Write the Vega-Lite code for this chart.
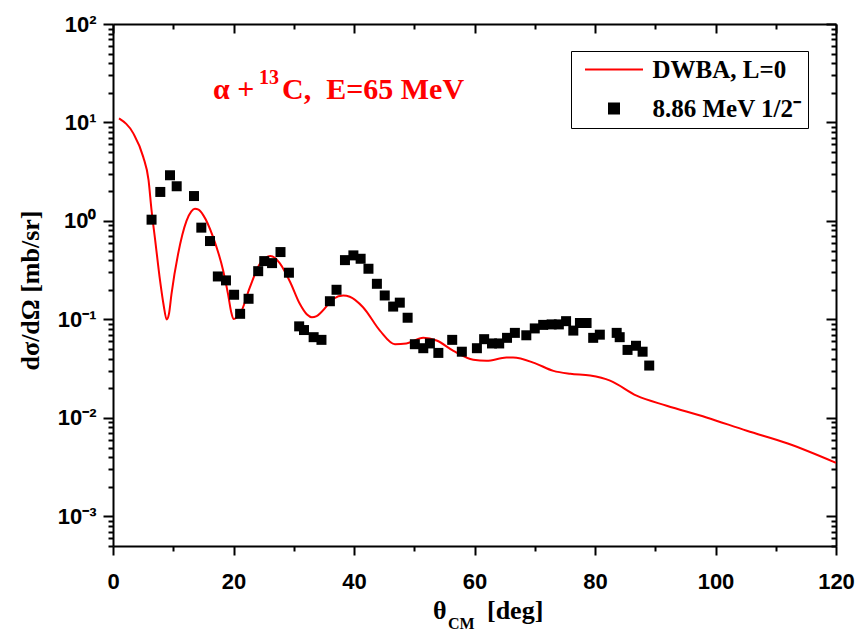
{
  "$schema": "https://vega.github.io/schema/vega-lite/v6.json",
  "width": 723,
  "height": 522,
  "autosize": {"type": "none"},
  "padding": {"left": 113, "top": 24, "right": 23, "bottom": 87},
  "background": "white",
  "config": {
    "view": {"stroke": null},
    "axis": {
      "domainColor": "black", "domainWidth": 2,
      "tickColor": "black", "tickWidth": 2,
      "grid": false,
      "labelFont": "Liberation Sans", "labelFontWeight": "bold", "labelFontSize": 22, "labelColor": "black",
      "titleFont": "Liberation Serif", "titleFontWeight": "bold", "titleFontSize": 26, "titleColor": "black"
    }
  },
  "datasets": {
    "dwba": [
      {"theta": 1.0, "xs": 11.0, "series": "DWBA, L=0"},
      {"theta": 3.4, "xs": 7.7, "series": "DWBA, L=0"},
      {"theta": 5.0, "xs": 4.5, "series": "DWBA, L=0"},
      {"theta": 5.9, "xs": 2.6, "series": "DWBA, L=0"},
      {"theta": 6.4, "xs": 1.28, "series": "DWBA, L=0"},
      {"theta": 7.0, "xs": 0.64, "series": "DWBA, L=0"},
      {"theta": 7.8, "xs": 0.25, "series": "DWBA, L=0"},
      {"theta": 8.4, "xs": 0.14, "series": "DWBA, L=0"},
      {"theta": 8.9, "xs": 0.1, "series": "DWBA, L=0"},
      {"theta": 9.3, "xs": 0.115, "series": "DWBA, L=0"},
      {"theta": 9.7, "xs": 0.18, "series": "DWBA, L=0"},
      {"theta": 10.8, "xs": 0.46, "series": "DWBA, L=0"},
      {"theta": 12.2, "xs": 1.0, "series": "DWBA, L=0"},
      {"theta": 13.0, "xs": 1.25, "series": "DWBA, L=0"},
      {"theta": 13.6, "xs": 1.33, "series": "DWBA, L=0"},
      {"theta": 14.2, "xs": 1.3, "series": "DWBA, L=0"},
      {"theta": 15.0, "xs": 1.14, "series": "DWBA, L=0"},
      {"theta": 16.6, "xs": 0.69, "series": "DWBA, L=0"},
      {"theta": 18.3, "xs": 0.31, "series": "DWBA, L=0"},
      {"theta": 19.1, "xs": 0.18, "series": "DWBA, L=0"},
      {"theta": 19.6, "xs": 0.12, "series": "DWBA, L=0"},
      {"theta": 20.0, "xs": 0.101, "series": "DWBA, L=0"},
      {"theta": 20.5, "xs": 0.104, "series": "DWBA, L=0"},
      {"theta": 21.1, "xs": 0.114, "series": "DWBA, L=0"},
      {"theta": 22.7, "xs": 0.21, "series": "DWBA, L=0"},
      {"theta": 24.4, "xs": 0.37, "series": "DWBA, L=0"},
      {"theta": 25.3, "xs": 0.42, "series": "DWBA, L=0"},
      {"theta": 26.1, "xs": 0.44, "series": "DWBA, L=0"},
      {"theta": 26.9, "xs": 0.42, "series": "DWBA, L=0"},
      {"theta": 27.7, "xs": 0.37, "series": "DWBA, L=0"},
      {"theta": 29.4, "xs": 0.24, "series": "DWBA, L=0"},
      {"theta": 31.0, "xs": 0.144, "series": "DWBA, L=0"},
      {"theta": 32.2, "xs": 0.112, "series": "DWBA, L=0"},
      {"theta": 33.0, "xs": 0.105, "series": "DWBA, L=0"},
      {"theta": 33.8, "xs": 0.108, "series": "DWBA, L=0"},
      {"theta": 34.6, "xs": 0.119, "series": "DWBA, L=0"},
      {"theta": 36.6, "xs": 0.162, "series": "DWBA, L=0"},
      {"theta": 38.2, "xs": 0.175, "series": "DWBA, L=0"},
      {"theta": 39.3, "xs": 0.17, "series": "DWBA, L=0"},
      {"theta": 41.5, "xs": 0.133, "series": "DWBA, L=0"},
      {"theta": 44.3, "xs": 0.077, "series": "DWBA, L=0"},
      {"theta": 46.8, "xs": 0.056, "series": "DWBA, L=0"},
      {"theta": 48.7, "xs": 0.057, "series": "DWBA, L=0"},
      {"theta": 51.5, "xs": 0.065, "series": "DWBA, L=0"},
      {"theta": 53.7, "xs": 0.061, "series": "DWBA, L=0"},
      {"theta": 56.5, "xs": 0.048, "series": "DWBA, L=0"},
      {"theta": 59.8, "xs": 0.039, "series": "DWBA, L=0"},
      {"theta": 62.0, "xs": 0.038, "series": "DWBA, L=0"},
      {"theta": 65.3, "xs": 0.041, "series": "DWBA, L=0"},
      {"theta": 66.4, "xs": 0.041, "series": "DWBA, L=0"},
      {"theta": 70.0, "xs": 0.036, "series": "DWBA, L=0"},
      {"theta": 73.1, "xs": 0.03, "series": "DWBA, L=0"},
      {"theta": 75.9, "xs": 0.028, "series": "DWBA, L=0"},
      {"theta": 79.2, "xs": 0.0269, "series": "DWBA, L=0"},
      {"theta": 82.5, "xs": 0.0239, "series": "DWBA, L=0"},
      {"theta": 86.9, "xs": 0.0168, "series": "DWBA, L=0"},
      {"theta": 91.9, "xs": 0.0133, "series": "DWBA, L=0"},
      {"theta": 98.5, "xs": 0.0101, "series": "DWBA, L=0"},
      {"theta": 105.2, "xs": 0.0074, "series": "DWBA, L=0"},
      {"theta": 112.0, "xs": 0.0055, "series": "DWBA, L=0"},
      {"theta": 120.0, "xs": 0.0035, "series": "DWBA, L=0"}
    ],
    "exp": [
      {"theta": 6.4, "xs": 1.03, "series": "8.86 MeV 1/2⁻"},
      {"theta": 7.85, "xs": 1.97, "series": "8.86 MeV 1/2⁻"},
      {"theta": 9.46, "xs": 2.91, "series": "8.86 MeV 1/2⁻"},
      {"theta": 10.57, "xs": 2.25, "series": "8.86 MeV 1/2⁻"},
      {"theta": 13.44, "xs": 1.79, "series": "8.86 MeV 1/2⁻"},
      {"theta": 14.66, "xs": 0.855, "series": "8.86 MeV 1/2⁻"},
      {"theta": 16.1, "xs": 0.625, "series": "8.86 MeV 1/2⁻"},
      {"theta": 17.4, "xs": 0.273, "series": "8.86 MeV 1/2⁻"},
      {"theta": 18.75, "xs": 0.249, "series": "8.86 MeV 1/2⁻"},
      {"theta": 20.1, "xs": 0.178, "series": "8.86 MeV 1/2⁻"},
      {"theta": 21.1, "xs": 0.114, "series": "8.86 MeV 1/2⁻"},
      {"theta": 22.5, "xs": 0.162, "series": "8.86 MeV 1/2⁻"},
      {"theta": 24.1, "xs": 0.309, "series": "8.86 MeV 1/2⁻"},
      {"theta": 25.1, "xs": 0.391, "series": "8.86 MeV 1/2⁻"},
      {"theta": 26.4, "xs": 0.373, "series": "8.86 MeV 1/2⁻"},
      {"theta": 27.8, "xs": 0.483, "series": "8.86 MeV 1/2⁻"},
      {"theta": 29.2, "xs": 0.298, "series": "8.86 MeV 1/2⁻"},
      {"theta": 30.9, "xs": 0.085, "series": "8.86 MeV 1/2⁻"},
      {"theta": 31.7, "xs": 0.078, "series": "8.86 MeV 1/2⁻"},
      {"theta": 33.3, "xs": 0.066, "series": "8.86 MeV 1/2⁻"},
      {"theta": 34.6, "xs": 0.062, "series": "8.86 MeV 1/2⁻"},
      {"theta": 36.0, "xs": 0.153, "series": "8.86 MeV 1/2⁻"},
      {"theta": 37.1, "xs": 0.2, "series": "8.86 MeV 1/2⁻"},
      {"theta": 38.5, "xs": 0.4, "series": "8.86 MeV 1/2⁻"},
      {"theta": 39.9, "xs": 0.447, "series": "8.86 MeV 1/2⁻"},
      {"theta": 41.1, "xs": 0.413, "series": "8.86 MeV 1/2⁻"},
      {"theta": 42.4, "xs": 0.327, "series": "8.86 MeV 1/2⁻"},
      {"theta": 43.8, "xs": 0.23, "series": "8.86 MeV 1/2⁻"},
      {"theta": 45.1, "xs": 0.175, "series": "8.86 MeV 1/2⁻"},
      {"theta": 46.5, "xs": 0.135, "series": "8.86 MeV 1/2⁻"},
      {"theta": 47.6, "xs": 0.148, "series": "8.86 MeV 1/2⁻"},
      {"theta": 48.9, "xs": 0.104, "series": "8.86 MeV 1/2⁻"},
      {"theta": 50.1, "xs": 0.056, "series": "8.86 MeV 1/2⁻"},
      {"theta": 51.5, "xs": 0.051, "series": "8.86 MeV 1/2⁻"},
      {"theta": 52.6, "xs": 0.057, "series": "8.86 MeV 1/2⁻"},
      {"theta": 54.0, "xs": 0.0457, "series": "8.86 MeV 1/2⁻"},
      {"theta": 56.3, "xs": 0.062, "series": "8.86 MeV 1/2⁻"},
      {"theta": 57.9, "xs": 0.047, "series": "8.86 MeV 1/2⁻"},
      {"theta": 60.4, "xs": 0.051, "series": "8.86 MeV 1/2⁻"},
      {"theta": 61.6, "xs": 0.063, "series": "8.86 MeV 1/2⁻"},
      {"theta": 62.9, "xs": 0.057, "series": "8.86 MeV 1/2⁻"},
      {"theta": 64.1, "xs": 0.057, "series": "8.86 MeV 1/2⁻"},
      {"theta": 65.4, "xs": 0.065, "series": "8.86 MeV 1/2⁻"},
      {"theta": 66.7, "xs": 0.073, "series": "8.86 MeV 1/2⁻"},
      {"theta": 68.6, "xs": 0.069, "series": "8.86 MeV 1/2⁻"},
      {"theta": 70.0, "xs": 0.081, "series": "8.86 MeV 1/2⁻"},
      {"theta": 71.4, "xs": 0.088, "series": "8.86 MeV 1/2⁻"},
      {"theta": 72.8, "xs": 0.089, "series": "8.86 MeV 1/2⁻"},
      {"theta": 74.0, "xs": 0.089, "series": "8.86 MeV 1/2⁻"},
      {"theta": 75.2, "xs": 0.096, "series": "8.86 MeV 1/2⁻"},
      {"theta": 76.4, "xs": 0.077, "series": "8.86 MeV 1/2⁻"},
      {"theta": 77.5, "xs": 0.092, "series": "8.86 MeV 1/2⁻"},
      {"theta": 78.6, "xs": 0.092, "series": "8.86 MeV 1/2⁻"},
      {"theta": 79.7, "xs": 0.065, "series": "8.86 MeV 1/2⁻"},
      {"theta": 80.8, "xs": 0.07, "series": "8.86 MeV 1/2⁻"},
      {"theta": 83.6, "xs": 0.073, "series": "8.86 MeV 1/2⁻"},
      {"theta": 84.1, "xs": 0.066, "series": "8.86 MeV 1/2⁻"},
      {"theta": 85.4, "xs": 0.049, "series": "8.86 MeV 1/2⁻"},
      {"theta": 86.8, "xs": 0.054, "series": "8.86 MeV 1/2⁻"},
      {"theta": 87.9, "xs": 0.047, "series": "8.86 MeV 1/2⁻"},
      {"theta": 89.0, "xs": 0.034, "series": "8.86 MeV 1/2⁻"}
    ]
  },
  "resolve": {"axis": {"x": "independent", "y": "independent"}},
  "layer": [
    {
      "data": {"name": "dwba"},
      "mark": {"type": "line", "strokeWidth": 2, "interpolate": "monotone", "clip": true},
      "encoding": {
        "x": {
          "field": "theta", "type": "quantitative",
          "scale": {"domain": [0, 120], "nice": false, "zero": false},
          "axis": {
            "orient": "bottom",
            "values": [0, 10, 20, 30, 40, 50, 60, 70, 80, 90, 100, 110, 120],
            "labelExpr": "datum.value % 20 === 0 ? datum.label : ''",
            "tickSize": {"condition": {"test": "datum.value % 20 === 0", "value": 9}, "value": 5},
            "labelPadding": 16,
            "labelFlush": false,
            "labelOverlap": false,
            "title": null
          }
        },
        "y": {
          "field": "xs", "type": "quantitative",
          "scale": {"type": "log", "domain": [0.0005, 100], "nice": false},
          "axis": {
            "orient": "left",
            "values": [0.0005, 0.0006, 0.0007, 0.0008, 0.0009, 0.001, 0.002, 0.003, 0.004, 0.005, 0.006, 0.007, 0.008, 0.009, 0.01, 0.02, 0.03, 0.04, 0.05, 0.06, 0.07, 0.08, 0.09, 0.1, 0.2, 0.3, 0.4, 0.5, 0.6, 0.7, 0.8, 0.9, 1, 2, 3, 4, 5, 6, 7, 8, 9, 10, 20, 30, 40, 50, 60, 70, 80, 90, 100],
            "labelExpr": "abs(log(datum.value)/LN10 - round(log(datum.value)/LN10)) < 1e-6 ? '10' + replace(replace(replace(replace(replace(toString(round(log(datum.value)/LN10)), '-', '⁻'), '0', '⁰'), '1', '¹'), '2', '²'), '3', '³') : ''",
            "tickSize": {"condition": {"test": "abs(log(datum.value)/LN10 - round(log(datum.value)/LN10)) < 1e-6", "value": 10}, "value": 5},
            "labelPadding": 7,
            "labelFlush": false,
            "labelOverlap": false,
            "labelBaseline": "middle",
            "title": "dσ/dΩ [mb/sr]",
            "titleX": -83,
            "titleY": 266,
            "titleAngle": 270,
            "titleAlign": "center",
            "titleBaseline": "middle"
          }
        },
        "color": {
          "field": "series", "type": "nominal",
          "scale": {"domain": ["DWBA, L=0", "8.86 MeV 1/2⁻"], "range": ["#ff0000", "#000000"]},
          "legend": {
            "orient": "none", "legendX": 458, "legendY": 27,
            "title": null,
            "strokeColor": "black", "fillColor": "white",
            "padding": 6,
            "rowPadding": 13,
            "symbolOffset": 24.5,
            "labelOffset": 26,
            "labelFont": "Liberation Serif", "labelFontWeight": "bold", "labelFontSize": 25, "labelColor": "black",
            "labelLimit": 400,
            "encode": {
              "symbols": {
                "update": {
                  "shape": {"signal": "datum.value === 'DWBA, L=0' ? 'M-5.8,0L5.8,0' : 'square'"},
                  "size": {"value": 100},
                  "stroke": {"signal": "datum.value === 'DWBA, L=0' ? '#ff0000' : 'transparent'"},
                  "strokeWidth": {"value": 2},
                  "fill": {"signal": "datum.value === 'DWBA, L=0' ? 'transparent' : '#000000'"},
                  "opacity": {"value": 1}
                }
              }
            }
          }
        }
      }
    },
    {
      "data": {"name": "exp"},
      "mark": {"type": "point", "shape": "square", "filled": true, "size": 100, "opacity": 1},
      "encoding": {
        "x": {
          "field": "theta", "type": "quantitative",
          "scale": {"domain": [0, 120], "nice": false, "zero": false},
          "axis": {
            "orient": "top",
            "values": [0, 10, 20, 30, 40, 50, 60, 70, 80, 90, 100, 110, 120],
            "labels": false,
            "tickSize": {"condition": {"test": "datum.value % 20 === 0", "value": -9}, "value": -5},
            "title": null
          }
        },
        "y": {
          "field": "xs", "type": "quantitative",
          "scale": {"type": "log", "domain": [0.0005, 100], "nice": false},
          "axis": {
            "orient": "right",
            "values": [0.0005, 0.0006, 0.0007, 0.0008, 0.0009, 0.001, 0.002, 0.003, 0.004, 0.005, 0.006, 0.007, 0.008, 0.009, 0.01, 0.02, 0.03, 0.04, 0.05, 0.06, 0.07, 0.08, 0.09, 0.1, 0.2, 0.3, 0.4, 0.5, 0.6, 0.7, 0.8, 0.9, 1, 2, 3, 4, 5, 6, 7, 8, 9, 10, 20, 30, 40, 50, 60, 70, 80, 90, 100],
            "labels": false,
            "tickSize": {"condition": {"test": "abs(log(datum.value)/LN10 - round(log(datum.value)/LN10)) < 1e-6", "value": -10}, "value": -5},
            "title": null
          }
        },
        "color": {"field": "series", "type": "nominal"}
      }
    },
    {
      "data": {"values": [{}]},
      "mark": {"type": "text", "font": "Liberation Serif", "fontWeight": "bold", "fontSize": 30, "color": "#ff0000", "align": "left", "baseline": "alphabetic"},
      "encoding": {
        "x": {"datum": 16.6, "type": "quantitative", "axis": null},
        "y": {"datum": 17.3, "type": "quantitative", "axis": null},
        "text": {"value": "α +"}
      }
    },
    {
      "data": {"values": [{}]},
      "mark": {"type": "text", "font": "Liberation Serif", "fontWeight": "bold", "fontSize": 20, "color": "#ff0000", "align": "left", "baseline": "alphabetic"},
      "encoding": {
        "x": {"datum": 24.23, "type": "quantitative", "axis": null},
        "y": {"datum": 24.6, "type": "quantitative", "axis": null},
        "text": {"value": "13"}
      }
    },
    {
      "data": {"values": [{}]},
      "mark": {"type": "text", "font": "Liberation Serif", "fontWeight": "bold", "fontSize": 30, "color": "#ff0000", "align": "left", "baseline": "alphabetic"},
      "encoding": {
        "x": {"datum": 28.05, "type": "quantitative", "axis": null},
        "y": {"datum": 17.3, "type": "quantitative", "axis": null},
        "text": {"value": "C,\u00a0\u00a0E=65 MeV"}
      }
    },
    {
      "data": {"values": [{}]},
      "mark": {"type": "text", "font": "Liberation Serif", "fontWeight": "bold", "fontSize": 26, "color": "black", "align": "left", "baseline": "alphabetic"},
      "encoding": {
        "x": {"datum": 53.11, "type": "quantitative", "axis": null},
        "y": {"datum": 0.0000907, "type": "quantitative", "axis": null},
        "text": {"value": "θ"}
      }
    },
    {
      "data": {"values": [{}]},
      "mark": {"type": "text", "font": "Liberation Serif", "fontWeight": "bold", "fontSize": 16, "color": "black", "align": "left", "baseline": "alphabetic"},
      "encoding": {
        "x": {"datum": 55.6, "type": "quantitative", "axis": null},
        "y": {"datum": 0.0000718, "type": "quantitative", "axis": null},
        "text": {"value": "CM"}
      }
    },
    {
      "data": {"values": [{}]},
      "mark": {"type": "text", "font": "Liberation Serif", "fontWeight": "bold", "fontSize": 26, "color": "black", "align": "left", "baseline": "alphabetic"},
      "encoding": {
        "x": {"datum": 62.07, "type": "quantitative", "axis": null},
        "y": {"datum": 0.0000907, "type": "quantitative", "axis": null},
        "text": {"value": "[deg]"}
      }
    }
  ]
}
